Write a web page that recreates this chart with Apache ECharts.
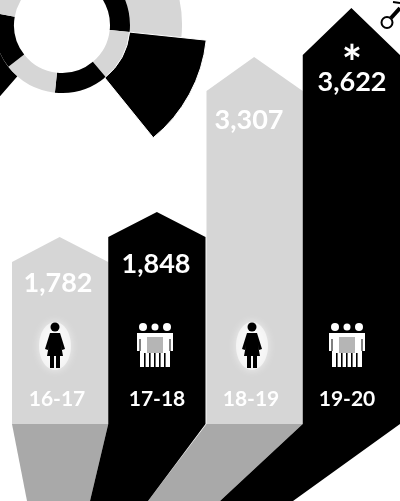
<!DOCTYPE html>
<html>
<head>
<meta charset="utf-8">
<script src="https://cdn.jsdelivr.net/npm/echarts@6/dist/echarts.min.js"></script>
<style>
    html, body { margin: 0; background: #fff; }
    #report { width: 400px; height: 501px; }
</style>
</head>
<body>
<div id="report"></div>
<script type="text/javascript">
    // data
    var categories = ['16-17', '17-18', '18-19', '19-20'];
    var womenValues = [1782, null, 3307, null];
    var allValues = [null, 1848, null, 3622];
    var valueLabels = ['1,782', '1,848', '3,307', '3,622'];

    // wheel at the top left, slice sizes in degrees
    var ringSlices = [96, 44, 46, 46, 48, 80];
    var longSlice = 45;
    var midSlice = 36;
    var leftSlice = 59;

    var LIGHT = '#d6d6d6';
    var TAIL = '#a9a9a9';
    var DARK = '#000000';
    var FONT = 'Lato, "Open Sans", sans-serif';

    // drawing layout only (pixels)
    var columnBottom = 424;
    var roofHeight = [25, 25, 34, 47];
    var labelY = [283, 264, 120, 82];
    var labelX = [58, 156, 249, 352];
    var categoryX = [57, 157, 251, 347];
    var iconX = [55, 155, 252, 347];
    var tailX = [[27, 90], [90, 148], [148, 220], [220, 293]];

    function womanIcon(cx) {
        return [
            { type: 'ellipse', shape: { cx: cx, cy: 346, rx: 16, ry: 24 }, style: { fill: '#fff', opacity: 0.6, shadowBlur: 8, shadowColor: '#fff' } },
            { type: 'circle', shape: { cx: cx, cy: 327, r: 4.5 }, style: { fill: DARK } },
            { type: 'polygon', shape: { points: [[cx - 5, 333], [cx + 5, 333], [cx + 10, 349], [cx + 7, 350], [cx + 6, 345], [cx + 8, 356], [cx - 8, 356], [cx - 6, 345], [cx - 7, 350], [cx - 10, 349]] }, style: { fill: DARK } },
            { type: 'rect', shape: { x: cx - 5, y: 356, width: 4, height: 12 }, style: { fill: DARK } },
            { type: 'rect', shape: { x: cx + 1, y: 356, width: 4, height: 12 }, style: { fill: DARK } }
        ];
    }

    function groupIcon(cx) {
        var white = { fill: '#fff' };
        var kids = [
            { type: 'circle', shape: { cx: cx - 12, cy: 327, r: 4 }, style: white },
            { type: 'circle', shape: { cx: cx, cy: 327, r: 3.5 }, style: white },
            { type: 'circle', shape: { cx: cx + 12, cy: 327, r: 4 }, style: white },
            { type: 'polygon', shape: { points: [[cx - 18, 333], [cx + 18, 333], [cx + 18, 351], [cx + 15, 351], [cx + 15, 367], [cx - 15, 367], [cx - 15, 351], [cx - 18, 351]] }, style: white },
            { type: 'rect', shape: { x: cx - 8, y: 337, width: 16, height: 16 }, style: { fill: '#b5b5b5' } },
            { type: 'rect', shape: { x: cx - 15.5, y: 339, width: 1, height: 12 }, style: { fill: DARK } },
            { type: 'rect', shape: { x: cx + 14.5, y: 339, width: 1, height: 12 }, style: { fill: DARK } }
        ];
        [-11, -6, -1, 4, 9].forEach(function (dx) {
            kids.push({ type: 'rect', shape: { x: cx + dx, y: 353, width: 1.6, height: 14 }, style: { fill: DARK } });
        });
        return kids;
    }

    function renderColumn(params, api) {
        var i = api.value(0);
        var v = api.value(1);
        if (isNaN(v)) {
            return null;
        }
        var top = api.coord([i, v]);
        var w = api.size([1, 0])[0];
        var left = top[0] - w / 2;
        var right = top[0] + w / 2;
        var shoulder = top[1] + roofHeight[i];
        var isDark = i % 2 === 1;
        var children = [];
        if (isDark) {
            children.push({
                type: 'polygon',
                shape: { points: [top, [right, shoulder], [right, columnBottom], [tailX[i][1], 501], [tailX[i][0], 501], [left, columnBottom], [left, shoulder]] },
                style: { fill: DARK }
            });
        } else {
            children.push({
                type: 'polygon',
                shape: { points: [top, [right, shoulder], [right, columnBottom], [left + 1, columnBottom], [left + 1, shoulder]] },
                style: { fill: LIGHT }
            });
            children.push({
                type: 'polygon',
                shape: { points: [[left + 1, columnBottom], [right, columnBottom], [tailX[i][1], 501], [tailX[i][0], 501]] },
                style: { fill: TAIL }
            });
        }
        children = children.concat(isDark ? groupIcon(iconX[i]) : womanIcon(iconX[i]));
        children.push({
            type: 'text',
            style: { text: valueLabels[i], x: labelX[i], y: labelY[i], fill: '#fff', font: 'bold 27px ' + FONT, textAlign: 'center', textVerticalAlign: 'middle' }
        });
        children.push({
            type: 'text',
            style: { text: categories[i], x: categoryX[i], y: 399, fill: '#fff', font: 'bold 21px ' + FONT, textAlign: 'center', textVerticalAlign: 'middle' }
        });
        if (i === 3) {
            children.push({
                type: 'text',
                style: { text: '*', x: labelX[i], y: 65, fill: '#fff', font: 'bold 48px ' + FONT, textAlign: 'center', textVerticalAlign: 'middle' }
            });
        }
        return { type: 'group', children: children };
    }

    function toRows(values) {
        return values.map(function (v, i) {
            return [i, v === null ? NaN : v];
        });
    }

    function wheelPie(radius, startAngle, data) {
        return {
            type: 'pie',
            silent: true,
            center: [62, 25],
            radius: radius,
            startAngle: startAngle,
            label: { show: false },
            labelLine: { show: false },
            emphasis: { disabled: true },
            data: data
        };
    }

    function slice(value, color, border) {
        return {
            value: value,
            itemStyle: {
                color: color || 'transparent',
                borderColor: '#fff',
                borderWidth: border || 0
            }
        };
    }

    var ringColors = [DARK, LIGHT, DARK, LIGHT, DARK, LIGHT];

    var option = {
        animation: false,
        grid: { left: 11, right: 0, top: 0, bottom: 0 },
        xAxis: { type: 'category', data: categories, show: false },
        yAxis: [
            { type: 'value', min: -455, max: 3790, show: false },
            { type: 'value', min: -665, max: 3691, show: false }
        ],
        series: [
            wheelPie([68, 120], 30, [slice(midSlice, LIGHT), slice(360 - midSlice)]),
            wheelPie([68, 100], -131, [slice(leftSlice, DARK), slice(360 - leftSlice)]),
            wheelPie([48, 68], 90, ringSlices.map(function (v, i) {
                return slice(v, ringColors[i]);
            })),
            wheelPie([68, 145], -6, [slice(longSlice, DARK, 1), slice(360 - longSlice)]),
            {
                name: 'women',
                type: 'custom',
                yAxisIndex: 0,
                z: 3,
                encode: { x: 0, y: 1 },
                renderItem: renderColumn,
                data: toRows(womenValues)
            },
            {
                name: 'all',
                type: 'custom',
                yAxisIndex: 1,
                z: 4,
                encode: { x: 0, y: 1 },
                renderItem: renderColumn,
                data: toRows(allValues)
            }
        ],
        graphic: [
            { type: 'circle', shape: { cx: 387, cy: 22.5, r: 5.5 }, style: { fill: 'none', stroke: DARK, lineWidth: 2 } },
            { type: 'line', shape: { x1: 391, y1: 18, x2: 400, y2: 8 }, style: { stroke: DARK, lineWidth: 4 } },
            { type: 'line', shape: { x1: 393, y1: 2, x2: 400, y2: 3 }, style: { stroke: DARK, lineWidth: 2 } }
        ]
    };

    var myChart = echarts.init(document.getElementById('report'));
    myChart.setOption(option);
</script>
</body>
</html>
